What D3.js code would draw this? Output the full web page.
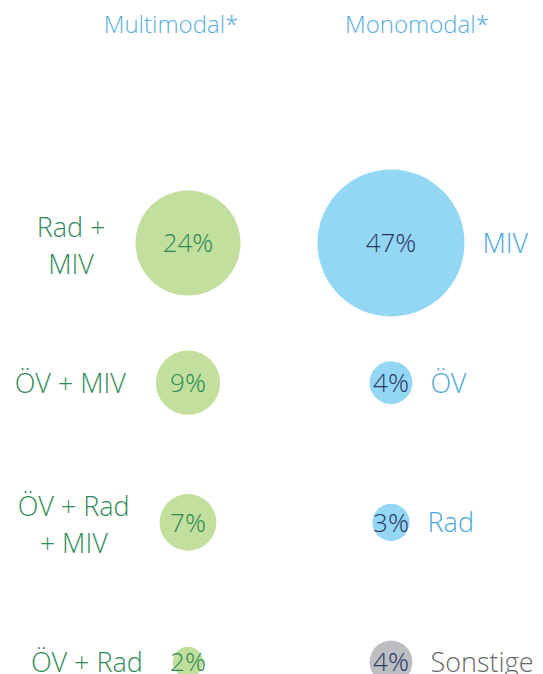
<!DOCTYPE html>
<html>
<head>
<meta charset="utf-8">
<script src="https://cdn.jsdelivr.net/npm/d3@7"></script>
<style>
  html, body { margin: 0; padding: 0; background: #fff; }
  svg { display: block; font-family: "Open Sans Light", "Open Sans", sans-serif; font-weight: 300; }
</style>
</head>
<body>
<div id="chart"></div>
<script>
// Share of trips by mode combination: multimodal vs. monomodal, as bubbles.
var groups = ["Multimodal*", "Monomodal*"];
var multiLabels = [["Rad +", "MIV"], ["ÖV + MIV"], ["ÖV + Rad", "+ MIV"], ["ÖV + Rad"]];
var multiValues = [24, 9, 7, 2];
var monoLabels = ["MIV", "ÖV", "Rad", "Sonstige"];
var monoValues = [47, 4, 3, 4];
var monoKinds = ["mode", "mode", "mode", "other"];

var W = 543, H = 674;
var GREEN_FILL = "#c3df9d", GREEN_TEXT = "#2f8a58";
var BLUE_FILL = "#93d7f5", BLUE_TEXT = "#4aa7dd", NAVY = "#2b3b68";
var GREY_FILL = "#bdbec2", GREY_TEXT = "#6a6a6a";

var svg = d3.select("#chart").append("svg")
  .attr("width", W).attr("height", H);

var x = d3.scalePoint().domain(groups).range([188, 391]);
var y = d3.scalePoint().domain(d3.range(multiValues.length)).range([243, 662]);
var r = d3.scaleSqrt().domain([0, 47]).range([0, 73.5]);

// column headers (sit a bit off the bubble centres in the original)
var headerShift = { "Multimodal*": -17, "Monomodal*": 26 };
svg.selectAll("text.header").data(groups).join("text")
  .attr("class", "header")
  .attr("x", function (d) { return x(d) + headerShift[d]; })
  .attr("y", 33)
  .attr("text-anchor", "middle")
  .attr("font-size", 24)
  .attr("fill", "#56ade1")
  .text(function (d) { return d; });

// -- multimodal column -----------------------------------------------------
var multi = svg.append("g").selectAll("g")
  .data(multiValues.map(function (v, i) { return { v: v, i: i, lines: multiLabels[i] }; }))
  .join("g")
  .attr("transform", function (d) { return "translate(" + x(groups[0]) + "," + y(d.i) + ")"; });

multi.append("circle")
  .attr("r", function (d) { return r(d.v); })
  .attr("fill", GREEN_FILL);

multi.append("text")
  .attr("text-anchor", "middle")
  .attr("dy", "0.36em")
  .attr("font-size", 26)
  .attr("fill", GREEN_TEXT)
  .text(function (d) { return d.v + "%"; });

// left labels: block right edge 30px left of the bubble, lines centred
multi.each(function (d) {
  var g = d3.select(this);
  var right = -r(d.v) - 30;
  var lab = g.append("text")
    .attr("text-anchor", "middle")
    .attr("font-size", 27)
    .attr("fill", GREEN_TEXT);
  var two = d.lines.length > 1;
  var spans = lab.selectAll("tspan").data(d.lines).join("tspan")
    .attr("y", function (_l, k) { return two ? (k === 0 ? -6 : 31) : 10; })
    .text(function (l) { return l; });
  var wmax = 0;
  spans.each(function () { wmax = Math.max(wmax, this.getComputedTextLength()); });
  spans.attr("x", right - wmax / 2);
});

// -- monomodal column -------------------------------------------------------
var mono = svg.append("g").selectAll("g")
  .data(monoValues.map(function (v, i) { return { v: v, i: i, label: monoLabels[i], kind: monoKinds[i] }; }))
  .join("g")
  .attr("transform", function (d) { return "translate(" + x(groups[1]) + "," + y(d.i) + ")"; });

mono.append("circle")
  .attr("r", function (d) { return r(d.v); })
  .attr("fill", function (d) { return d.kind === "other" ? GREY_FILL : BLUE_FILL; });

mono.append("text")
  .attr("text-anchor", "middle")
  .attr("dy", "0.36em")
  .attr("font-size", 26)
  .attr("fill", NAVY)
  .text(function (d) { return d.v + "%"; });

mono.append("text")
  .attr("x", function (d) { return r(d.v) + 18; })
  .attr("y", 10)
  .attr("font-size", 27)
  .attr("fill", function (d) { return d.kind === "other" ? GREY_TEXT : BLUE_TEXT; })
  .text(function (d) { return d.label; });
</script>
</body>
</html>
